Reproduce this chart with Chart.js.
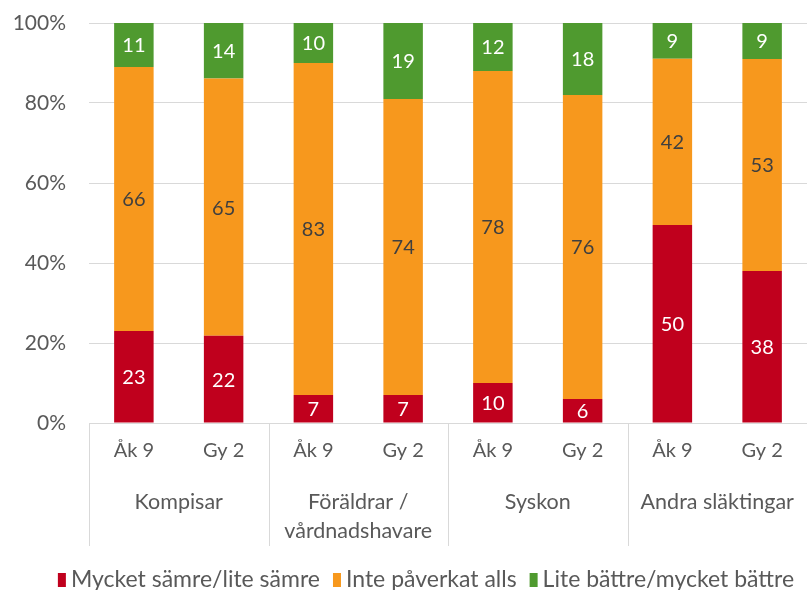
<!DOCTYPE html>
<html>
<head>
<meta charset="utf-8">
<script src="https://cdn.jsdelivr.net/npm/chart.js@4/dist/chart.umd.min.js"></script>
<style>
  html, body { margin: 0; padding: 0; background: #fff; }
  #wrap { width: 807px; height: 590px; position: relative; }
</style>
</head>
<body>
<div id="wrap"><canvas id="c"></canvas></div>
<script>
// Answers per respondent group and school year (counts as reported, rounded percent)
const groups = ['Kompisar', ['Föräldrar /', 'vårdnadshavare'], 'Syskon', 'Andra släktingar'];
const categories = ['Åk 9', 'Gy 2', 'Åk 9', 'Gy 2', 'Åk 9', 'Gy 2', 'Åk 9', 'Gy 2'];

const worse     = [23, 22, 7, 7, 10, 6, 50, 38];
const unchanged = [66, 65, 83, 74, 78, 76, 42, 53];
const better    = [11, 14, 10, 19, 12, 18, 9, 9];

const seriesNames = ['Mycket sämre/lite sämre', 'Inte påverkat alls', 'Lite bättre/mycket bättre'];
const yTicks = [0, 20, 40, 60, 80, 100];

const COLORS = ['#C0001D', '#F7981D', '#4F9A2F'];
const LABEL_COLORS = ['#ffffff', '#3f3f3f', '#ffffff'];
const TEXT = '#595959';
const GRID = '#d9d9d9';
const FONT = 'Lato, "Open Sans", sans-serif';

// Each bar is scaled to 100 % of its own total
const totals = worse.map((v, i) => v + unchanged[i] + better[i]);
const share = arr => arr.map((v, i) => v / totals[i] * 100);
const raw = [worse, unchanged, better];

const datasets = raw.map((arr, k) => ({
  label: seriesNames[k],
  data: share(arr),
  backgroundColor: COLORS[k],
  borderWidth: 0,
  barPercentage: 0.44,
  categoryPercentage: 1
}));

// Value labels inside each segment
const valueLabels = {
  id: 'valueLabels',
  afterDatasetsDraw(chart) {
    const ctx = chart.ctx;
    ctx.save();
    ctx.font = '20px ' + FONT;
    ctx.textAlign = 'center';
    ctx.textBaseline = 'middle';
    chart.data.datasets.forEach((ds, k) => {
      const meta = chart.getDatasetMeta(k);
      meta.data.forEach((el, i) => {
        ctx.fillStyle = LABEL_COLORS[k];
        ctx.fillText(String(raw[k][i]), el.x, (el.y + el.base) / 2 + 1);
      });
    });
    ctx.restore();
  }
};

// Second axis row (group names with dividers) and the legend row
const groupAxis = {
  id: 'groupAxis',
  afterDraw(chart) {
    const ctx = chart.ctx;
    const xs = chart.scales.x;
    const bottom = chart.chartArea.bottom;
    const step = (xs.right - xs.left) / categories.length;
    ctx.save();
    ctx.strokeStyle = GRID;
    ctx.lineWidth = 1;
    for (let g = 0; g <= groups.length; g++) {
      const x = Math.round(xs.left + g * 2 * step) + 0.5;
      ctx.beginPath();
      ctx.moveTo(x, bottom);
      ctx.lineTo(x, 546);
      ctx.stroke();
    }
    ctx.fillStyle = TEXT;
    ctx.font = '21.5px ' + FONT;
    ctx.textAlign = 'center';
    ctx.textBaseline = 'middle';
    groups.forEach((name, g) => {
      const cx = xs.left + (g * 2 + 1) * step;
      const lines = Array.isArray(name) ? name : [name];
      lines.forEach((t, j) => ctx.fillText(t, cx, 502 + j * 29));
    });

    // legend: small colour box followed by the series name
    ctx.font = '23px ' + FONT;
    ctx.textAlign = 'left';
    const boxW = 8, boxH = 14, gapText = 5, gapItem = 13;
    const widths = seriesNames.map(n => boxW + gapText + ctx.measureText(n).width);
    const total = widths.reduce((a, b) => a + b, 0) + gapItem * (seriesNames.length - 1);
    let x = 426 - total / 2;
    const cy = 580;
    seriesNames.forEach((n, k) => {
      ctx.fillStyle = COLORS[k];
      ctx.fillRect(x, cy - boxH / 2, boxW, boxH);
      ctx.fillStyle = TEXT;
      ctx.fillText(n, x + boxW + gapText, cy);
      x += widths[k] + gapItem;
    });
    ctx.restore();
  }
};

new Chart(document.getElementById('c'), {
  type: 'bar',
  data: { labels: categories, datasets },
  options: {
    responsive: true,
    maintainAspectRatio: false,
    animation: false,
    layout: { padding: { left: 0, right: -8, top: 23, bottom: 0 } },
    plugins: {
      tooltip: { enabled: false },
      legend: { display: false }
    },
    scales: {
      x: {
        stacked: true,
        grid: { display: false, drawTicks: false },
        border: { display: true, color: GRID },
        ticks: {
          color: TEXT,
          font: { family: FONT, size: 20 },
          padding: 16,
          maxRotation: 0,
          autoSkip: false
        },
        afterFit(scale) { scale.height = 167; }
      },
      y: {
        stacked: true,
        min: 0,
        max: 100,
        afterBuildTicks(scale) { scale.ticks = yTicks.map(v => ({ value: v })); },
        grid: { color: GRID, drawTicks: false },
        border: { display: false },
        ticks: {
          color: TEXT,
          font: { family: FONT, size: 21 },
          padding: 23,
          callback: v => v + '%'
        },
        afterFit(scale) {
          scale.width = 89;
          scale.paddingTop = 0;
          scale.paddingBottom = 0;
        }
      }
    }
  },
  plugins: [valueLabels, groupAxis]
});
</script>
</body>
</html>
